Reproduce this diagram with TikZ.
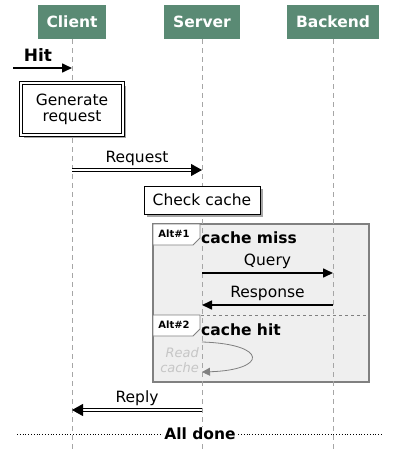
\documentclass[tikz,border=0pt]{standalone}
\usepackage{fontspec}
\setmainfont{DejaVu Sans}
\usetikzlibrary{arrows.meta,shadows}
\definecolor{hdrgreen}{HTML}{5A8A74}
\definecolor{framegray}{HTML}{EFEFEF}

\begin{document}
\begin{tikzpicture}[x=1pt,y=-1pt,
  font=\fontsize{15.5}{17}\selectfont,
  actor/.style={fill=hdrgreen, text=white, font=\fontsize{15.5}{17}\selectfont\bfseries, minimum height=34pt, inner xsep=9pt},
  lifeline/.style={gray!70, thick, dash pattern=on 5pt off 4pt},
  msg/.style={black, line width=1.6pt, -{Triangle[length=10pt,width=9pt]}},
  dblmsg/.style={black, double, double distance=2pt, line width=0.9pt, -{Triangle[length=11pt,width=12pt]}},
  task/.style={draw, fill=white, thick, align=center, drop shadow={shadow xshift=2.5pt, shadow yshift=-2.5pt, fill=gray!70, opacity=1}},
  tag/.style={draw=gray, fill=white, thick},
  tagtext/.style={font=\fontsize{10}{11}\selectfont\bfseries},
  cond/.style={font=\fontsize{15.5}{17}\selectfont\bfseries, anchor=west, inner sep=0pt}]
\useasboundingbox (0,0) rectangle (402,452);

% alt frame
\draw[gray, fill=framegray, line width=1.3pt] (153,224) rectangle (369,382);
\draw[gray, thick, dashed] (153,315) -- (369,315);

% actors and lifelines
\node[actor] (cl) at (72,22) {Client};
\node[actor] (sv) at (202,22) {Server};
\node[actor] (be) at (333,22) {Backend};
\draw[lifeline] (cl.south) -- (72,452);
\draw[lifeline] (sv.south) -- (202,452);
\draw[lifeline] (be.south) -- (333,452);

% found message
\coordinate (hitstart) at (13,68);
\coordinate (hitend) at (72,68);
\draw[msg] (hitstart) -- (hitend);
\node[font=\fontsize{17}{18}\selectfont\bfseries] (hit) at (38,55) {Hit};

\node[task, double, double distance=2.5pt, minimum width=102pt, minimum height=52pt, inner sep=2pt] (gen) at (72,109) {Generate\\[-1pt]request};

\coordinate (cl1) at (72,170);
\coordinate (sv1) at (202,170);
\draw[dblmsg] (cl1) -- node[above=0pt] {Request} (sv1);

\node[task, minimum width=116pt, minimum height=28pt, inner sep=2pt] (chk) at (202,200) {Check cache};

% alt #1
\draw[tag] (153,224) -- (200,224) -- (200,238) -- (193,245) -- (153,245) -- cycle;
\node[tagtext] (alt1) at (174,234) {Alt\#1};
\node[cond] (miss) at (201,238) {cache miss};

\coordinate (sv2) at (202,273);
\coordinate (be2) at (333,273);
\draw[msg] (sv2) -- node[above=0pt] {Query} (be2);
\coordinate (be3) at (333,305);
\coordinate (sv3) at (202,305);
\draw[msg] (be3) -- node[above=0pt] {Response} (sv3);

% alt #2
\draw[tag] (153,315) -- (200,315) -- (200,329) -- (193,336) -- (153,336) -- cycle;
\node[tagtext] (alt2) at (174,325) {Alt\#2};
\node[cond] (hitc) at (201,330) {cache hit};

\coordinate (sv4) at (202,342);
\coordinate (sv5) at (202,372);
\draw[gray, thick, -{Triangle[length=8pt,width=8pt]}] (sv4) .. controls (268,344) and (268,370) .. (sv5);
\node[anchor=east, align=right, text=gray!45, font=\fontsize{13}{15}\selectfont\itshape, inner sep=0pt] (rd) at (199,360) {Read\\cache};

\coordinate (sv6) at (202,410);
\coordinate (cl6) at (72,410);
\draw[dblmsg] (sv6) -- node[above=0pt] {Reply} (cl6);

% separator
\coordinate (sepl) at (17,434);
\coordinate (sepr) at (382,434);
\draw[dotted, thick] (sepl) -- (sepr);
\node[fill=white, inner sep=1pt, font=\fontsize{15.5}{17}\selectfont\bfseries] (done) at (200,434) {All done};
\end{tikzpicture}
\end{document}
